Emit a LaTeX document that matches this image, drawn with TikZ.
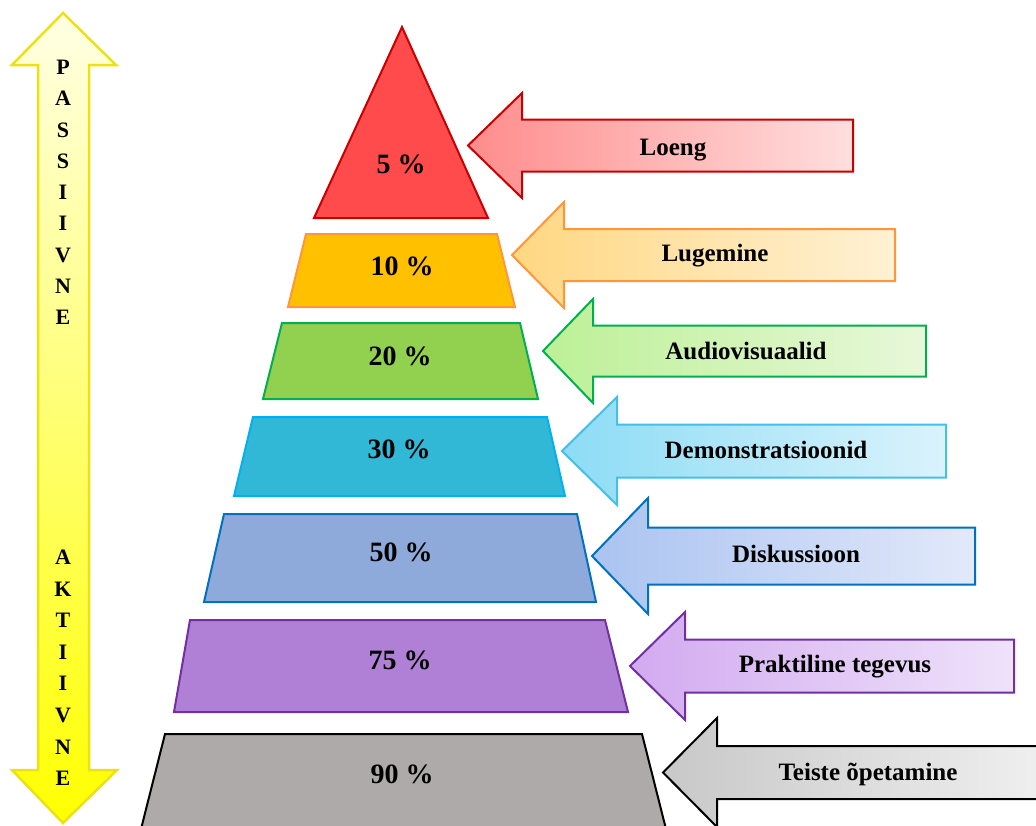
\documentclass[tikz,border=0pt]{standalone}
\usepackage{fontspec}
\setmainfont{Liberation Serif}
\definecolor{ybord}{RGB}{235,225,20}
\definecolor{ytop}{RGB}{255,255,228}
\definecolor{ymid}{RGB}{255,255,190}
\definecolor{ybot}{RGB}{255,255,0}
\definecolor{redF}{RGB}{255,75,75}
\definecolor{redB}{RGB}{200,0,0}
\definecolor{oraF}{RGB}{255,192,0}
\definecolor{oraB}{RGB}{255,150,60}
\definecolor{greF}{RGB}{146,208,80}
\definecolor{greB}{RGB}{0,176,80}
\definecolor{cyaF}{RGB}{49,184,214}
\definecolor{cyaB}{RGB}{0,176,240}
\definecolor{bluF}{RGB}{142,170,219}
\definecolor{bluB}{RGB}{0,112,192}
\definecolor{purF}{RGB}{176,128,214}
\definecolor{purB}{RGB}{112,48,160}
\definecolor{graF}{RGB}{174,170,170}
\definecolor{graB}{RGB}{0,0,0}
\definecolor{aRedL}{RGB}{255,140,140}\definecolor{aRedR}{RGB}{255,222,222}
\definecolor{aOraL}{RGB}{255,215,130}\definecolor{aOraR}{RGB}{255,241,212}
\definecolor{aGreL}{RGB}{188,240,150}\definecolor{aGreR}{RGB}{232,248,218}
\definecolor{aCyaL}{RGB}{140,220,245}\definecolor{aCyaR}{RGB}{218,243,252}
\definecolor{aCyaB}{RGB}{70,190,230}
\definecolor{aBluL}{RGB}{170,195,240}\definecolor{aBluR}{RGB}{226,233,250}
\definecolor{aPurL}{RGB}{210,170,240}\definecolor{aPurR}{RGB}{239,226,250}
\definecolor{aGraL}{RGB}{200,200,200}\definecolor{aGraR}{RGB}{240,240,240}
\newcommand\LeftBlockArrow[6]{(#1,#2) -- (#3,{#2-#4}) -- (#3,{#2-#5}) -- (#6,{#2-#5}) -- (#6,{#2+#5}) -- (#3,{#2+#5}) -- (#3,{#2+#4}) -- cycle}
\tikzset{
  lbl/.style={font=\fontsize{25}{30}\selectfont\bfseries, inner sep=0pt, anchor=base},
  pct/.style={font=\fontsize{28}{32}\selectfont\bfseries, inner sep=0pt, anchor=base},
  ltr/.style={font=\fontsize{22}{26}\selectfont\bfseries, inner sep=0pt, anchor=base},
  layer/.style={line width=2pt, line join=miter},
  barrow/.style={line width=2pt, line join=miter},
}
\begin{document}
\begin{tikzpicture}[x=1pt,y=-1pt]
\useasboundingbox (0,0) rectangle (1036,825);
\clip (0,0) rectangle (1036,825);
\fill[white] (0,0) rectangle (1036,825);
% vertical double arrow
\draw[line width=2.5pt, draw=ybord, top color=ytop, middle color=ymid, bottom color=ybot]
  (63,13) -- (116,65) -- (89,65) -- (89,770) -- (117,770) -- (63,823) -- (12,770) -- (38,770) -- (38,65) -- (12,65) -- cycle;
\foreach \c [count=\i from 0] in {P,A,S,S,I,I,V,N,E}
  \node[ltr] (p\i) at (63,{67+31.25*\i+7.5}) {\c};
\foreach \c [count=\i from 0] in {A,K,T,I,I,V,N,E}
  \node[ltr] (a\i) at (63,{557+31.6*\i+7.5}) {\c};
% pyramid
\draw[layer, draw=redB, fill=redF] (402,27) -- (488,218) -- (314,218) -- cycle;
\draw[layer, draw=oraB, fill=oraF] (306,234) -- (497,234) -- (515,307) -- (288,307) -- cycle;
\draw[layer, draw=greB, fill=greF] (282,323) -- (520,323) -- (538,399) -- (263,399) -- cycle;
\draw[layer, draw=cyaB, fill=cyaF] (253,417) -- (547,417) -- (565,496) -- (234,496) -- cycle;
\draw[layer, draw=bluB, fill=bluF] (224,514) -- (577,514) -- (596,602) -- (204,602) -- cycle;
\draw[layer, draw=purB, fill=purF] (190,620) -- (605,620) -- (628,712) -- (174,712) -- cycle;
\draw[layer, draw=graB, fill=graF] (165,734) -- (642,734) -- (667.5,835) -- (139.5,835) -- cycle;
\node[pct] (l5) at (401,173) {5 \%};
\node[pct] (l10) at (402,275) {10 \%};
\node[pct] (l20) at (400,365) {20 \%};
\node[pct] (l30) at (399,458) {30 \%};
\node[pct] (l50) at (401,561) {50 \%};
\node[pct] (l75) at (400,669) {75 \%};
\node[pct] (l90) at (402,783) {90 \%};
% block arrows
\draw[barrow, draw=redB, left color=aRedL, right color=aRedR] \LeftBlockArrow{468}{145.5}{522}{52.5}{26}{853};
\draw[barrow, draw=oraB, left color=aOraL, right color=aOraR] \LeftBlockArrow{512}{255}{564}{53}{26}{895};
\draw[barrow, draw=greB, left color=aGreL, right color=aGreR] \LeftBlockArrow{543}{351}{593}{52}{25.5}{926};
\draw[barrow, draw=aCyaB, left color=aCyaL, right color=aCyaR] \LeftBlockArrow{562}{451}{617}{54}{26.5}{946};
\draw[barrow, draw=bluB, left color=aBluL, right color=aBluR] \LeftBlockArrow{592}{556}{648}{58}{28.5}{975};
\draw[barrow, draw=purB, left color=aPurL, right color=aPurR] \LeftBlockArrow{630}{666}{685}{54}{26.5}{1014};
\draw[barrow, draw=graB, left color=aGraL, right color=aGraR] \LeftBlockArrow{663}{772.5}{717}{54.5}{26.5}{1050};
\node[lbl] (t1) at (673,155.5) {Loeng};
\node[lbl] (t2) at (715,261.5) {Lugemine};
\node[lbl] (t3) at (746,359.5) {Audiovisuaalid};
\node[lbl] (t4) at (766,458.5) {Demonstratsioonid};
\node[lbl] (t5) at (796,562.5) {Diskussioon};
\node[lbl] (t6) at (835,672.5) {Praktiline tegevus};
\node[lbl] (t7) at (868,780.5) {Teiste õpetamine};
\end{tikzpicture}
\end{document}
